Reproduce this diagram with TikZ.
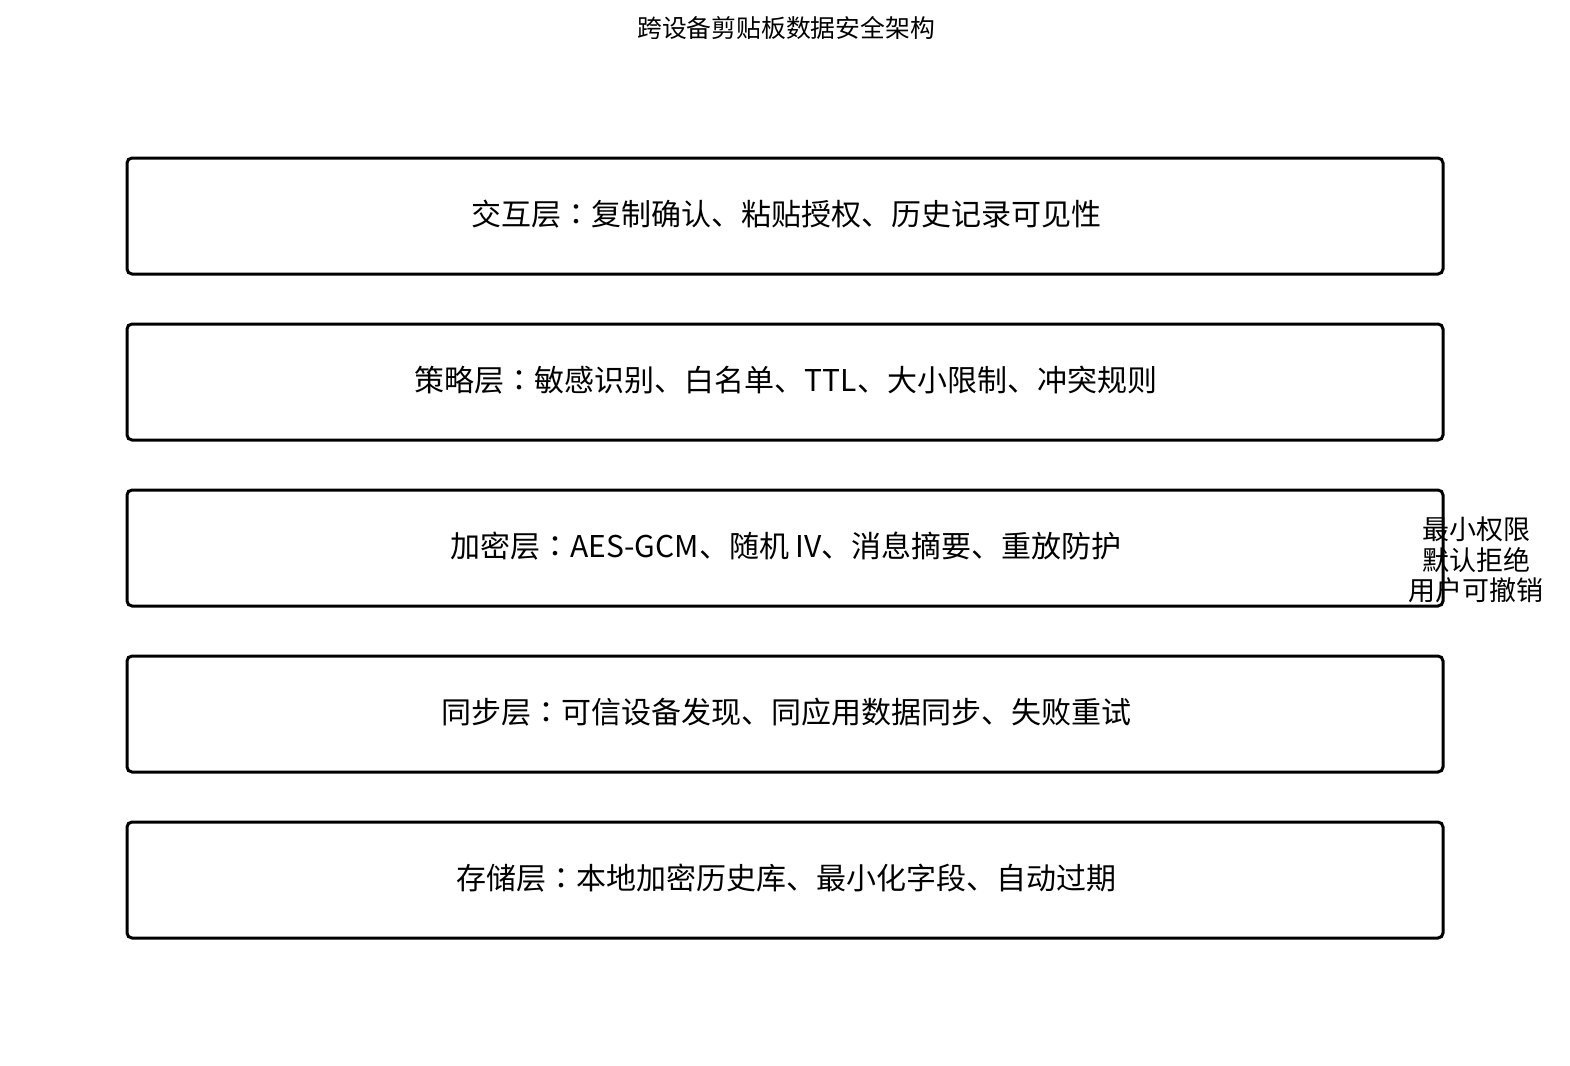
\documentclass[tikz,border=0pt]{standalone}
\usepackage{fontspec}
\setmainfont{Noto Sans CJK SC}
\newfontfamily\colonfont{Noto Sans CJK TC}
\newcommand{\mycolon}{{\colonfont ：}}
\begin{document}
\begin{tikzpicture}[x=0.5pt,y=-0.5pt,
  layer/.style={draw=black,line width=1.5pt,rounded corners=2.5pt,fill=white},
  layertext/.style={font=\fontsize{15pt}{18pt}\selectfont,anchor=center},
  sidetext/.style={font=\fontsize{13.5pt}{15.25pt}\selectfont,align=center,anchor=center}]
\useasboundingbox (0,0) rectangle (1570,1066);
\node[font=\fontsize{12.4pt}{15pt}\selectfont] (title) at (786,28) {跨设备剪贴板数据安全架构};
\draw[layer] (127,158) rectangle (1443,274);
\node[layertext] (l1) at (786,214) {交互层\mycolon 复制确认、粘贴授权、历史记录可见性};
\draw[layer] (127,324) rectangle (1443,440);
\node[layertext] (l2) at (786,380) {策略层\mycolon 敏感识别、白名单、TTL、大小限制、冲突规则};
\draw[layer] (127,490) rectangle (1443,606);
\node[layertext] (l3) at (786,546) {加密层\mycolon AES-GCM、随机 IV、消息摘要、重放防护};
\draw[layer] (127,656) rectangle (1443,772);
\node[layertext] (l4) at (786,712) {同步层\mycolon 可信设备发现、同应用数据同步、失败重试};
\draw[layer] (127,822) rectangle (1443,938);
\node[layertext] (l5) at (786,878) {存储层\mycolon 本地加密历史库、最小化字段、自动过期};
\node[sidetext] (side) at (1476,560) {最小权限\\默认拒绝\\用户可撤销};
\end{tikzpicture}
\end{document}
